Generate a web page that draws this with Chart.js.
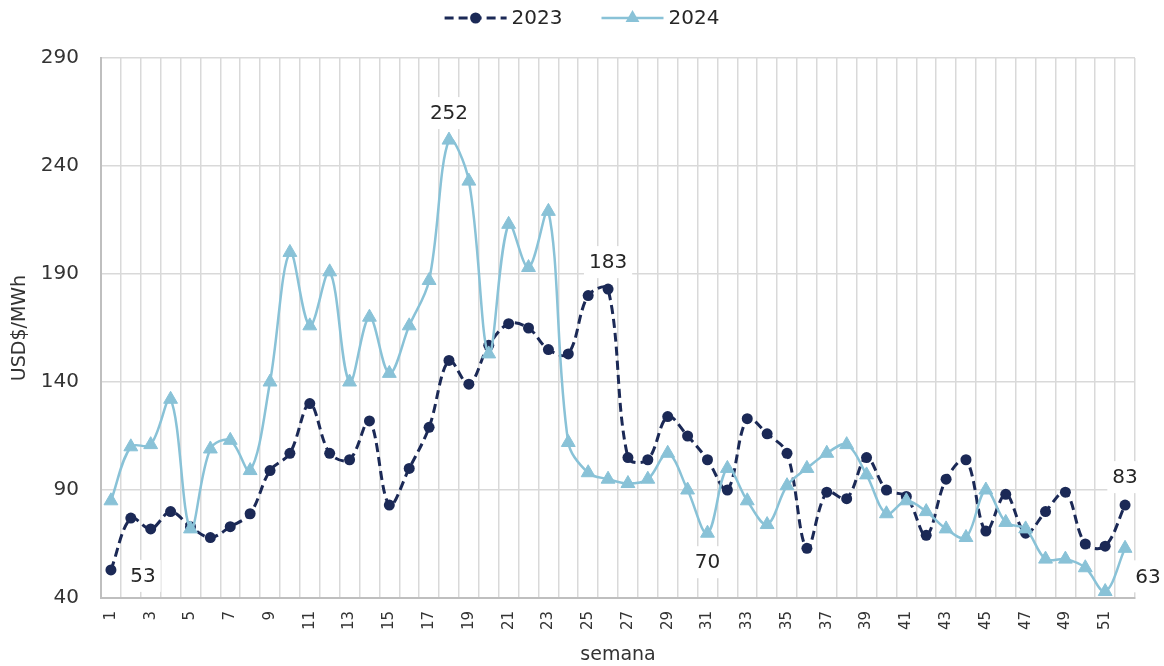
<!DOCTYPE html>
<html>
<head>
<meta charset="utf-8">
<script src="https://cdn.jsdelivr.net/npm/chart.js@4.4.1/dist/chart.umd.min.js"></script>
<style>
    html, body { margin: 0; padding: 0; background: #fff; }
</style>
</head>
<body>
<canvas id="priceChart" width="1164" height="666"></canvas>
<script>
const weeks = ['1', '2', '3', '4', '5', '6', '7', '8', '9', '10', '11', '12', '13', '14', '15', '16', '17', '18',
    '19', '20', '21', '22', '23', '24', '25', '26', '27', '28', '29', '30', '31', '32', '33', '34', '35', '36',
    '37', '38', '39', '40', '41', '42', '43', '44', '45', '46', '47', '48', '49', '50', '51', '52'];

const prices2023 = [53, 77, 72, 80, 73, 68, 73, 79, 99, 107, 130, 107, 104, 122, 83, 100, 119, 150, 139, 157,
    167, 165, 155, 153, 180, 183, 105, 104, 124, 115, 104, 90, 123, 116, 107, 63, 89, 86, 105, 90,
    87, 69, 95, 104, 71, 88, 70, 80, 89, 65, 64, 83];

const prices2024 = [85, 110, 111, 132, 72, 109, 113, 99, 140, 200, 166, 191, 140, 170, 144, 166, 187, 252, 233, 153,
    213, 193, 219, 112, 98, 95, 93, 95, 107, 90, 70, 100, 85, 74, 92, 100, 107, 111, 97, 79,
    85, 80, 72, 68, 90, 75, 72, 58, 58, 54, 43, 63];

const yTicks = [40, 90, 140, 190, 240, 290];

// which points carry a value label: [dataset, week index, dx, dy]
const labeled = [
    [0, 0, 32, 6],
    [1, 17, 0, -27],
    [0, 25, 0, -27],
    [1, 30, 0, 29],
    [0, 51, 0, -28],
    [1, 51, 23, 28]
];

const FONT = '"DejaVu Sans", sans-serif';
const DARK = '#1b2956';
const LIGHT = '#89c2d7';
const GRID = '#d9d9d9';

function drawMarker(ctx, style, x, y, r) {
    ctx.beginPath();
    if (style === 'triangle') {
        ctx.moveTo(x, y - r);
        ctx.lineTo(x + r * 0.866, y + r / 2);
        ctx.lineTo(x - r * 0.866, y + r / 2);
        ctx.closePath();
    } else {
        ctx.arc(x, y, r, 0, Math.PI * 2);
    }
    ctx.fill();
}

const topLegend = {
    id: 'topLegend',
    afterDraw(chart) {
        const ctx = chart.ctx;
        const y = 18;
        ctx.save();
        ctx.font = '20px ' + FONT;
        const items = chart.data.datasets.map(ds => ({ ds, w: 62 + 5 + ctx.measureText(ds.label).width }));
        const total = items.reduce((s, it) => s + it.w, 0) + 39 * (items.length - 1);
        let x = chart.width / 2 - total / 2;
        items.forEach(it => {
            const ds = it.ds;
            ctx.strokeStyle = ds.borderColor;
            ctx.lineWidth = ds.borderWidth;
            ctx.setLineDash(ds.borderDash || []);
            ctx.beginPath();
            ctx.moveTo(x, y);
            ctx.lineTo(x + 62, y);
            ctx.stroke();
            ctx.setLineDash([]);
            ctx.fillStyle = ds.pointBackgroundColor;
            drawMarker(ctx, ds.pointStyle, x + 31, y, ds.pointRadius);
            ctx.fillStyle = '#262626';
            ctx.textAlign = 'left';
            ctx.textBaseline = 'middle';
            ctx.fillText(ds.label, x + 67, y + 1);
            x += it.w + 39;
        });
        ctx.restore();
    }
};

const valueLabels = {
    id: 'valueLabels',
    afterDatasetsDraw(chart) {
        const ctx = chart.ctx;
        ctx.save();
        ctx.font = '20px ' + FONT;
        ctx.textAlign = 'center';
        ctx.textBaseline = 'middle';
        labeled.forEach(([d, i, dx, dy]) => {
            const pt = chart.getDatasetMeta(d).data[i];
            const text = String(chart.data.datasets[d].data[i]);
            const x = pt.x + dx;
            const y = pt.y + dy;
            const w = ctx.measureText(text).width + 10;
            ctx.fillStyle = '#fff';
            ctx.fillRect(x - w / 2, y - 16, w, 32);
            ctx.fillStyle = '#262626';
            ctx.fillText(text, x, y + 1);
        });
        ctx.restore();
    }
};

const ctx = document.getElementById('priceChart').getContext('2d');
const priceChart = new Chart(ctx, {
    type: 'line',
    data: {
        labels: weeks,
        datasets: [
            {
                label: '2023',
                data: prices2023,
                borderColor: DARK,
                borderWidth: 3,
                borderDash: [9, 5],
                pointStyle: 'circle',
                pointRadius: 5.5,
                pointBackgroundColor: DARK,
                pointBorderWidth: 0,
                tension: 0.35,
                order: 2
            },
            {
                label: '2024',
                data: prices2024,
                borderColor: LIGHT,
                borderWidth: 2.5,
                pointStyle: 'triangle',
                pointRadius: 8,
                pointBackgroundColor: LIGHT,
                pointBorderColor: LIGHT,
                pointBorderWidth: 1,
                tension: 0.35,
                order: 1
            }
        ]
    },
    options: {
        responsive: false,
        animation: false,
        layout: {
            padding: { top: 58, right: 29, left: 0, bottom: 0 }
        },
        scales: {
            x: {
                offset: true,
                grid: {
                    offset: true,
                    color: GRID,
                    lineWidth: 1.5,
                    drawTicks: false
                },
                border: { color: '#bfbfbf', width: 2 },
                ticks: {
                    autoSkip: false,
                    minRotation: 90,
                    maxRotation: 90,
                    padding: 13,
                    color: '#333',
                    font: { family: FONT, size: 15 },
                    callback: (v, i) => (i % 2 === 0 ? weeks[i] : '')
                },
                title: {
                    display: true,
                    text: 'semana',
                    color: '#333',
                    font: { family: FONT, size: 19 },
                    padding: { top: 0, bottom: 0 }
                },
                afterFit: scale => { scale.height = 68; }
            },
            y: {
                min: 40,
                max: 290,
                afterBuildTicks: scale => { scale.ticks = yTicks.map(v => ({ value: v })); },
                grid: {
                    color: GRID,
                    lineWidth: 1.5,
                    drawTicks: false
                },
                border: { color: '#bfbfbf', width: 2 },
                ticks: {
                    padding: 22,
                    color: '#333',
                    font: { family: FONT, size: 20 }
                },
                title: {
                    display: true,
                    text: 'USD$/MWh',
                    color: '#333',
                    font: { family: FONT, size: 19 },
                    padding: { top: 9, bottom: 0 }
                },
                afterFit: scale => { scale.width = 101; }
            }
        },
        plugins: {
            legend: { display: false },
            tooltip: { enabled: false }
        }
    },
    plugins: [valueLabels, topLegend]
});
</script>
</body>
</html>
